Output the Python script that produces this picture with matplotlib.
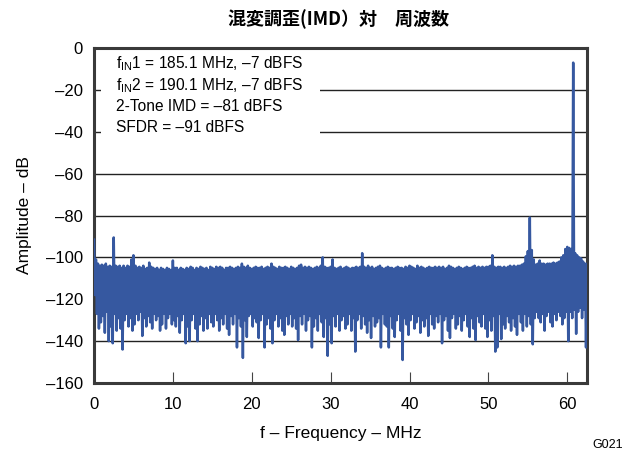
import numpy as np
import matplotlib
matplotlib.use("Agg")
import matplotlib.pyplot as plt
from matplotlib.patches import Rectangle

# ---------------- data ----------------
f_start, f_step = 0.0, 0.25   # MHz bins
peak_db = [
    -91.5, -101, -103, -104,   -103.5, -104, -103, -104.5,   -104, -104.5, -90.5, -104,
    -104.5, -104, -105, -104,  -105, -104, -104.5, -101,     -99, -104, -105, -104.5,
    -105, -104, -105.5, -105,  -102.5, -104.5, -105, -105.5, -105, -106, -105, -105.5,
    -106, -105, -105.5, -106,  -101.5, -105, -105, -106,     -105, -105.5, -106, -105,
    -105.5, -104.5, -105, -106, -105, -105.5, -104.5, -105,  -105.5, -105, -106, -104.5,
    -105, -105.5, -104.5, -105, -104.5, -105, -106, -105,    -105, -104.5, -105, -105.5,
    -105, -104.5, -105, -103,  -104.5, -105, -104, -105,     -105.5, -105, -104.5, -105,
    -105, -104.5, -105.5, -105, -104.5, -105, -103, -104.5,  -105, -105.5, -104.5, -105,
    -105, -104.5, -105, -105.5, -104.5, -105, -105.5, -105,  -104, -103.5, -105, -104.5,
    -105, -104.5, -105, -105.5, -105, -104.5, -105, -104,    -100, -104.5, -105, -105,
    -104.5, -101, -105, -105.5, -105, -104.5, -105.5, -105,  -104.5, -105, -105.5, -105,
    -105, -104.5, -105, -104.5, -98, -104.5, -105, -104,     -105, -104.5, -105.5, -105,
    -104.5, -104, -105, -105.5, -105, -104.5, -105, -105,    -105.5, -105, -104.5, -105,
    -105, -105.5, -104.5, -105, -104, -104.5, -105, -105.5,  -104, -105, -104.5, -105,
    -105.5, -105, -104.5, -105, -105, -104.5, -105, -104.5,  -105, -104.5, -105.5, -105,
    -104, -104.5, -105, -105.5, -105, -104.5, -105, -105.5,  -105, -104.5, -105, -105,
    -104.5, -104, -105, -104.5, -105, -104.5, -105, -104.5,  -104.5, -104, -99, -104.5,
    -105, -104.5, -104.5, -105, -104.5, -105, -104.5, -104,  -104.5, -104, -104.5, -104,
    -104, -103.5, -103, -99.5,  -97, -81, -96.5, -101,       -103.5, -103, -101.5, -103,
    -103, -103.5, -103, -103,   -103, -102.5, -103, -102.5,  -102, -100, -99, -96,
    -95, -95.5, -96, -7,        -98, -99, -100, -100.5,      -102, -103, -103,
]
trough_db = [
    -118, -127, -134, -131,  -128, -136, -126, -140,  -133, -141, -127, -135,
    -129, -134, -144, -130,  -127, -133, -129, -135,  -132, -127, -130, -126,
    -137.5, -129, -133, -128, -131, -134, -127, -130, -128, -135, -132, -127,
    -134, -129, -127, -132,  -130, -133, -128, -136,  -130, -127, -141, -133,
    -140, -130, -127, -134,  -140, -132, -128, -135,  -129, -134, -127, -131,
    -133, -127, -130, -135,  -129, -132, -127, -134,  -137, -128, -132, -127,
    -143, -129, -133, -148,  -130, -138, -128, -127,  -133, -129, -131, -138.5,
    -130, -127, -143, -132,  -129, -134, -141, -130,  -127, -133, -129, -135,
    -137, -128, -132, -127,  -133, -129, -134, -139.5, -128, -132, -127, -135,
    -130, -128, -143, -133,  -129, -135, -127, -131,  -138, -129, -147, -132,
    -141, -128, -133, -127,  -135, -130, -128, -134,  -132, -127, -135, -129,
    -145, -130, -127, -134,  -128, -132, -136, -130,  -138.5, -128, -133, -131,
    -129, -143, -127, -132,  -133, -143, -128, -134,  -138, -130, -127, -135,
    -149, -129, -132, -137,  -130, -127, -134, -131,  -128, -136, -130, -133,
    -129, -137.5, -127, -132, -134, -128, -131, -127, -141, -130, -128, -135,
    -138.5, -129, -127, -134, -132, -128, -135, -130, -127, -133, -138, -129,
    -134, -139.5, -128, -131, -133, -127, -134, -138, -130, -135, -128, -145,
    -143, -127, -139, -132,  -134, -128, -131, -135,  -129, -133, -137, -127,
    -131, -135, -127, -133,  -128, -132, -141.5, -129, -126, -129, -131, -127,
    -135, -128, -126, -131,  -133, -127, -130, -126,  -128, -132, -129, -126,
    -140, -126, -129, -125,  -136.5, -126, -124, -129, -125, -143, -124,
]
y_ticks = [0, -20, -40, -60, -80, -100, -120, -140, -160]
x_ticks = [0, 10, 20, 30, 40, 50, 60]
info_lines = [
    r"f$_\mathregular{IN}$1 = 185.1 MHz, –7 dBFS",
    r"f$_\mathregular{IN}$2 = 190.1 MHz, –7 dBFS",
    "2-Tone IMD = –81 dBFS",
    "SFDR = –91 dBFS",
]

# ---------------- figure ----------------
plt.rcParams['font.family'] = ['Liberation Sans', 'DejaVu Sans']
plt.rcParams['mathtext.fontset'] = 'custom'
plt.rcParams['mathtext.rm'] = 'Liberation Sans'

W, H = 633, 453
fig = plt.figure(figsize=(W/100, H/100), dpi=100)
ax = fig.add_axes([94/W, 1-383/H, (587-94)/W, (383-48)/H])

n = len(peak_db)
freqs = f_start + f_step*np.arange(n)
xs = np.empty(2*n); ys = np.empty(2*n)
xs[0::2] = freqs
xs[1::2] = freqs + f_step/2
ys[0::2] = peak_db
ys[1::2] = trough_db
ax.plot(xs, ys, color='#3658a0', lw=1.8, zorder=3)

ax.set_xlim(0, 62.5)
ax.set_ylim(-160, 0)
ax.set_yticks(y_ticks)
ax.set_yticklabels([("–%d" % -v) if v < 0 else "0" for v in y_ticks])
ax.set_xticks(x_ticks)
ax.tick_params(axis='x', direction='in', length=8, width=0.8, color='#444444',
               labelsize=12, pad=10)
ax.tick_params(axis='y', length=0, labelsize=12, pad=8)
for v in y_ticks[1:-1]:
    ax.axhline(v, color='#222222', lw=1.0, zorder=1)
for s in ax.spines.values():
    s.set_linewidth(2.2)
    s.set_color('#3a3a3a')

# white box behind the annotation text (display pixels, origin bottom-left)
ax.add_patch(Rectangle((101, H-142), 219, 86, transform=None, facecolor='white',
                       edgecolor='none', zorder=2))
for i, t in enumerate(info_lines):
    fig.text(116/W, 1-(64+21.3*i)/H, t, fontsize=11.2, va='center', ha='left',
             zorder=5)

ax.set_ylabel("Amplitude – dB", fontsize=12.5, labelpad=10)
ax.set_xlabel("f – Frequency – MHz", fontsize=12.5, labelpad=10)
fig.text(338/W, 1-19/H, "混変調歪(IMD）対　周波数", ha='center', va='center',
         fontsize=13, fontweight='bold', family=['Noto Sans CJK JP', 'DejaVu Sans'])
fig.text(608/W, 1-445/H, "G021", ha='center', va='center', fontsize=9)

fig.savefig("out.png", dpi=100)
